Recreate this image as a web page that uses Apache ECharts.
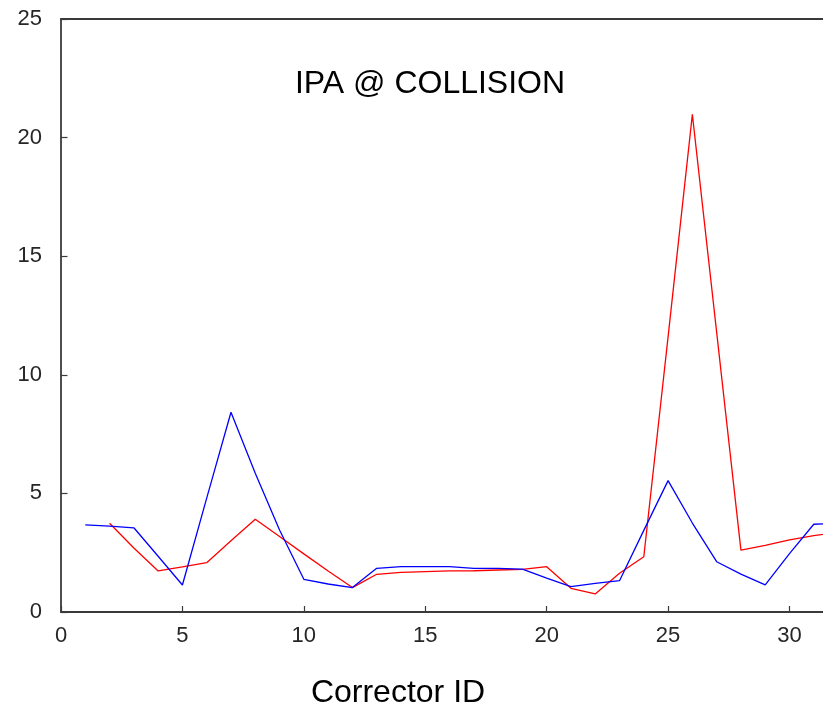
<!DOCTYPE html>
<html>
<head>
<meta charset="utf-8">
<script src="https://cdn.jsdelivr.net/npm/echarts@6/dist/echarts.min.js"></script>
<style>
  html, body { margin: 0; padding: 0; background: #ffffff; }
  #chart { width: 823px; height: 712px; }
</style>
</head>
<body>
<div id="chart"></div>
<script>
// Corrector IDs and the two measured curves
const correctorIds = [1, 2, 3, 4, 5, 6, 7, 8, 9, 10, 11, 12, 13, 14, 15, 16,
  17, 18, 19, 20, 21, 22, 23, 24, 25, 26, 27, 28, 29, 30, 31, 32];
const redValues = [null, 3.74, 2.7, 1.73, 1.9, 2.08, 3.0, 3.91, 3.18, 2.45, 1.73, 1.03,
  1.59, 1.67, 1.7, 1.73, 1.74, 1.77, 1.8, 1.91, 1.0, 0.76, 1.63, 2.33, 11.6, 20.98,
  11.8, 2.61, 2.81, 3.04, 3.22, 3.35];
const blueValues = [3.67, 3.62, 3.55, 2.35, 1.14, 4.8, 8.42, 5.85, 3.46, 1.38, 1.18, 1.03,
  1.84, 1.91, 1.91, 1.91, 1.84, 1.84, 1.81, 1.43, 1.07, 1.21, 1.32, 3.44, 5.54, 3.75,
  2.12, 1.6, 1.14, 2.46, 3.7, 3.75];
// visible x range ends where the canvas ends
const xTicks = { min: 0, max: 31.38, interval: 5 };
const yTicks = { min: 0, max: 25, interval: 5 };

const titleText = 'IPA @ COLLISION';
const xAxisTitle = 'Corrector ID';

function pairs(values) {
  return correctorIds.map((id, i) => [id, values[i]]);
}

const chart = echarts.init(document.getElementById('chart'), null, { renderer: 'canvas' });
const fontFamily = '"Liberation Sans", Arial, sans-serif';
const frameColor = '#3a3a3a';
const labelStyle = { color: '#262626', fontSize: 22, fontFamily: fontFamily };

chart.setOption({
  backgroundColor: '#ffffff',
  animation: false,
  grid: {
    left: 61,
    top: 19,
    bottom: 100,
    right: 0,
    show: false
  },
  xAxis: [
    {
      type: 'value',
      position: 'bottom',
      min: xTicks.min,
      max: xTicks.max,
      interval: xTicks.interval,
      axisLine: { show: true, onZero: false, lineStyle: { color: frameColor, width: 1.8 } },
      axisTick: { show: true, inside: true, length: 6, lineStyle: { color: frameColor, width: 1.2 } },
      axisLabel: Object.assign({ margin: 13, showMaxLabel: false }, labelStyle),
      splitLine: { show: false }
    },
    {
      // top frame edge
      type: 'value',
      position: 'top',
      min: xTicks.min,
      max: xTicks.max,
      interval: xTicks.interval,
      axisLine: { show: true, onZero: false, lineStyle: { color: frameColor, width: 1.8 } },
      axisTick: { show: false },
      axisLabel: { show: false },
      splitLine: { show: false }
    }
  ],
  yAxis: {
    type: 'value',
    min: yTicks.min,
    max: yTicks.max,
    interval: yTicks.interval,
    axisLine: { show: true, onZero: false, lineStyle: { color: frameColor, width: 1.8 } },
    axisTick: { show: true, inside: true, length: 6.5, lineStyle: { color: frameColor, width: 1.2 } },
    axisLabel: Object.assign({ margin: 19 }, labelStyle),
    splitLine: { show: false }
  },
  graphic: [
    {
      type: 'text',
      x: 430,
      y: 84,
      style: {
        text: titleText,
        font: '32px ' + fontFamily,
        fill: '#000000',
        textAlign: 'center',
        textVerticalAlign: 'middle'
      }
    },
    {
      type: 'text',
      x: 398,
      y: 693,
      style: {
        text: xAxisTitle,
        font: '32px ' + fontFamily,
        fill: '#000000',
        textAlign: 'center',
        textVerticalAlign: 'middle'
      }
    }
  ],
  series: [
    {
      type: 'line',
      xAxisIndex: 0,
      data: pairs(redValues),
      showSymbol: false,
      connectNulls: false,
      clip: true,
      lineStyle: { color: '#ff0000', width: 1.3 },
      itemStyle: { color: '#ff0000' },
      z: 2
    },
    {
      type: 'line',
      xAxisIndex: 0,
      data: pairs(blueValues),
      showSymbol: false,
      clip: true,
      lineStyle: { color: '#0000ff', width: 1.3 },
      itemStyle: { color: '#0000ff' },
      z: 3
    }
  ]
});
</script>
</body>
</html>
